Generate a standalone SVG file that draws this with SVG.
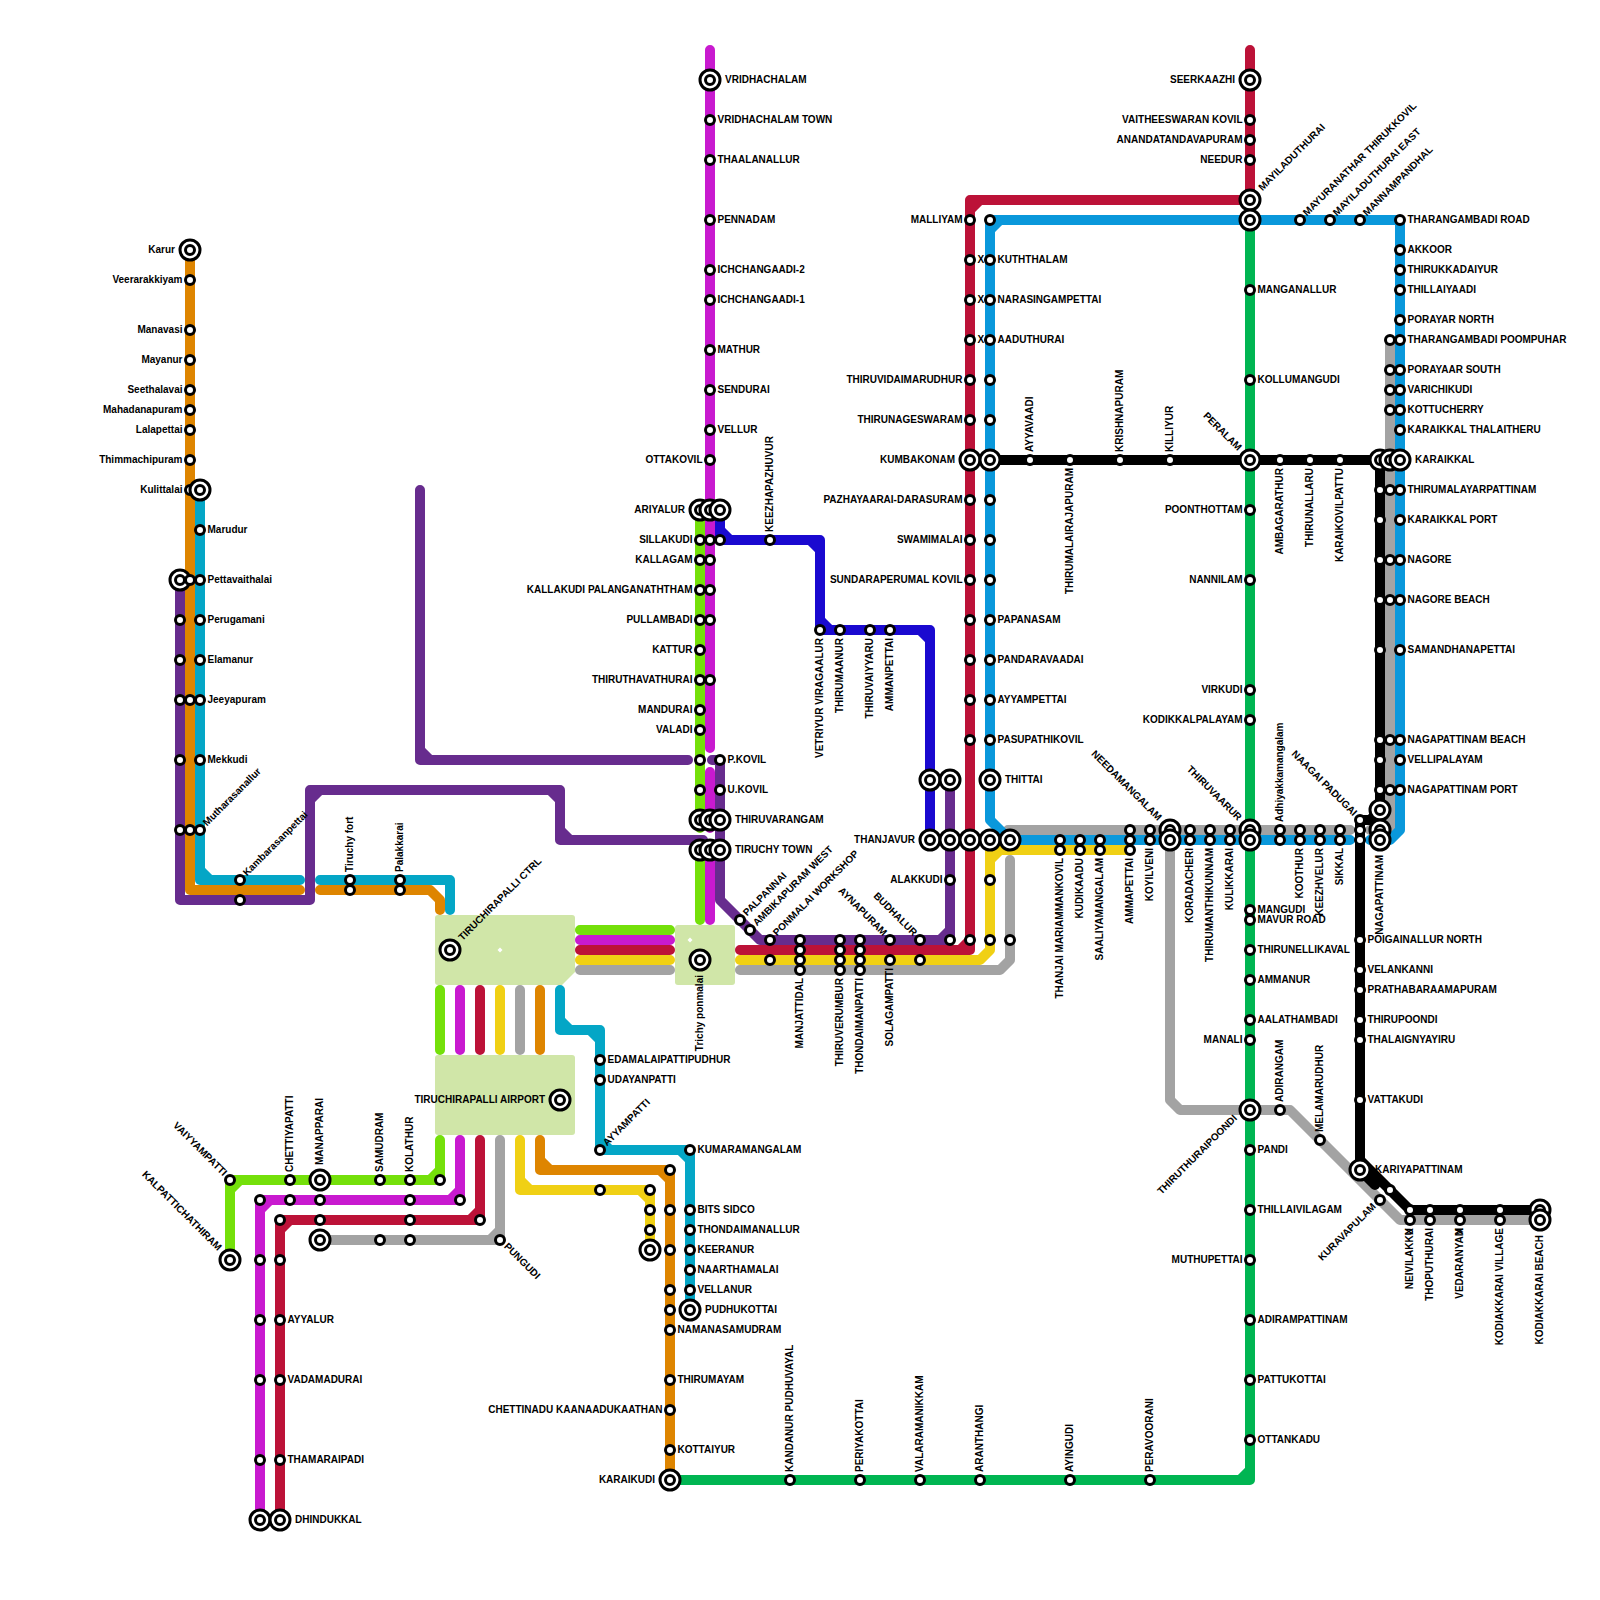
<svg xmlns="http://www.w3.org/2000/svg" width="1600" height="1600" viewBox="0 0 1600 1600">
<style>
text{font:bold 10px "Liberation Sans",Arial,sans-serif;fill:#000}
.e{text-anchor:end}
.l{fill:none;stroke-width:10;stroke-linecap:round;stroke-linejoin:round}
.st{fill:#fff;stroke:#000;stroke-width:3}
.area{fill:#d0e6a8}
.g1{stroke:#74e00a}.mg{stroke:#c81acf}.cr{stroke:#bc1238}.yl{stroke:#f0d014}.gr{stroke:#a3a3a3}.or{stroke:#de8500}.te{stroke:#04a6c6}.bl{stroke:#0a98db}.pu{stroke:#672c8e}.na{stroke:#1a09d0}.g2{stroke:#00b552}.bk{stroke:#000}
</style>
<defs>
<g id="s"><circle class="st" r="4.5"/></g>
<g id="t"><circle class="st" r="10"/><circle class="st" r="4.5"/></g>
</defs>
<g id="areas">
<path class="area" d="M438,915H572Q575,915 575,918V972L562,985H438Q435,985 435,982V918Q435,915 438,915Z"/>
<rect class="area" x="435" y="1055" width="140" height="80" rx="3"/>
<rect class="area" x="675" y="925" width="60" height="60" rx="3"/>
<polygon fill="#fff" points="500,947.5 502.5,950 500,952.5 497.5,950"/>
<polygon fill="#fff" points="690,937.5 692.5,940 690,942.5 687.5,940"/>
</g>
<g id="connectors">
<path class="l gr" d="M580,970H670M520,990V1050M500,1140V1240H320M500,1230L490,1240M740,970H1000L1010,960V860M1008,830H1350M1170,840V1100L1180,1110H1290L1400,1220H1530M1390,340V830L1380,840M1370,830H1380"/>
<path class="l g1" d="M700,510V828M700,850V920M580,930H670M440,990V1050M440,1140V1180H230V1260M440,1170L430,1180M240,1180L230,1190"/>
<path class="l mg" d="M710,50V748M710,772V828M710,850V920M580,940H670M460,990V1050M460,1140V1200H260V1520M460,1190L450,1200M270,1200L260,1210"/>
<path class="l pu" d="M420,490V760H688M420,750L430,760M712,760H720V900L760,940H950V780M950,930L940,940M180,580V900H310V790H560V840H703M310,800L320,790M550,790L560,800M560,830L570,840"/>
<path class="l cr" d="M1250,50V200H970V950H740M970,210L980,200M970,940L960,950M580,950H670M480,990V1050M480,1140V1220H280V1520M480,1210L470,1220M290,1220L280,1230"/>
<path class="l yl" d="M1130,850H990V950L980,960H740M1000,850L990,860M580,960H670M500,990V1050M520,1140V1190H650V1250M520,1180L530,1190M640,1190L650,1200"/>
<path class="l or" d="M190,250V890H300M320,890H430L440,900V910M540,990V1050M540,1140V1170H670V1480M540,1160L550,1170M660,1170L670,1180"/>
<path class="l te" d="M200,490V880H300M200,870L210,880M320,880H450V910M560,990V1030H600V1150H690V1310M560,1020L570,1030M590,1030L600,1040M600,1140L610,1150M680,1150L690,1160"/>
<path class="l bl" d="M990,220H1400V830L1390,840H1370M1350,840H1010L990,820V220M990,230L1000,220"/>
<path class="l na" d="M720,510V540H820V630H930V840M720,530L730,540M810,540L820,550M820,620L830,630M920,630L930,640"/>
<path class="l g2" d="M1250,220V1480H670M1250,1470L1240,1480"/>
<path class="l bk" d="M990,460H1380V810L1370,820H1360V1160L1410,1210H1540M1360,1170L1375,1185"/>
</g>
<g id="n-karur"><use href="#t" x="190" y="250"/><text class="e" x="175" y="252.5">Karur</text></g>
<g id="n-veerarakkiyam"><use href="#s" x="190" y="280"/><text class="e" x="182.5" y="282.5">Veerarakkiyam</text></g>
<g id="n-manavasi"><use href="#s" x="190" y="330"/><text class="e" x="182.5" y="332.5">Manavasi</text></g>
<g id="n-mayanur"><use href="#s" x="190" y="360"/><text class="e" x="182.5" y="362.5">Mayanur</text></g>
<g id="n-seethalavai"><use href="#s" x="190" y="390"/><text class="e" x="182.5" y="392.5">Seethalavai</text></g>
<g id="n-mahadanapuram"><use href="#s" x="190" y="410"/><text class="e" x="182.5" y="412.5">Mahadanapuram</text></g>
<g id="n-lalapettai"><use href="#s" x="190" y="430"/><text class="e" x="182.5" y="432.5">Lalapettai</text></g>
<g id="n-thimmachipuram"><use href="#s" x="190" y="460"/><text class="e" x="182.5" y="462.5">Thimmachipuram</text></g>
<g id="n-kulittalai"><use href="#s" x="190" y="490"/><use href="#t" x="200" y="490"/><text class="e" x="182.5" y="492.5">Kulittalai</text></g>
<g id="n-marudur"><use href="#s" x="200" y="530"/><text x="207.5" y="532.5">Marudur</text></g>
<g id="n-pettavaithalai"><use href="#t" x="180" y="580"/><use href="#s" x="190" y="580"/><use href="#s" x="200" y="580"/><text x="207.5" y="582.5">Pettavaithalai</text></g>
<g id="n-perugamani"><use href="#s" x="180" y="620"/><use href="#s" x="200" y="620"/><text x="207.5" y="622.5">Perugamani</text></g>
<g id="n-elamanur"><use href="#s" x="180" y="660"/><use href="#s" x="200" y="660"/><text x="207.5" y="662.5">Elamanur</text></g>
<g id="n-jeeyapuram"><use href="#s" x="180" y="700"/><use href="#s" x="190" y="700"/><use href="#s" x="200" y="700"/><text x="207.5" y="702.5">Jeeyapuram</text></g>
<g id="n-mekkudi"><use href="#s" x="180" y="760"/><use href="#s" x="200" y="760"/><text x="207.5" y="762.5">Mekkudi</text></g>
<g id="n-mutharasanallur"><use href="#s" x="180" y="830"/><use href="#s" x="190" y="830"/><use href="#s" x="200" y="830"/><text transform="translate(207,826.5) rotate(-45)">Mutharasanallur</text></g>
<g id="n-kambarasanpettai"><use href="#s" x="240" y="880"/><use href="#s" x="240" y="900"/><text transform="translate(247,876.5) rotate(-45)">Kambarasanpettai</text></g>
<g id="n-tiruchy-fort"><use href="#s" x="350" y="880"/><use href="#s" x="350" y="890"/><text transform="translate(352.5,872) rotate(-90)">Tiruchy fort</text></g>
<g id="n-palakkarai"><use href="#s" x="400" y="880"/><use href="#s" x="400" y="890"/><text transform="translate(402.5,872) rotate(-90)">Palakkarai</text></g>
<g id="n-trichy-ctrl"><use href="#t" x="450" y="950"/><text transform="translate(462.4,941.2) rotate(-45)">TIRUCHIRAPALLI CTRL</text></g>
<g id="n-trichy-ponmalai"><use href="#t" x="700" y="960"/><text class="e" transform="translate(702.5,975) rotate(-90)">Trichy ponmalai</text></g>
<g id="n-trichy-airport"><use href="#t" x="560" y="1100"/><text class="e" x="545" y="1102.5">TIRUCHIRAPALLI AIRPORT</text></g>
<g id="n-edamalai"><use href="#s" x="600" y="1060"/><text x="607.5" y="1062.5">EDAMALAIPATTIPUDHUR</text></g>
<g id="n-udayanpatti"><use href="#s" x="600" y="1080"/><text x="607.5" y="1082.5">UDAYANPATTI</text></g>
<g id="n-ayyampatti"><use href="#s" x="600" y="1150"/><text transform="translate(607,1146.5) rotate(-45)">AYYAMPATTI</text></g>
<g id="n-kumaramangalam"><use href="#s" x="690" y="1150"/><text x="697.5" y="1152.5">KUMARAMANGALAM</text></g>
<g id="n-bits"><use href="#s" x="690" y="1210"/><use href="#s" x="670" y="1210"/><use href="#s" x="650" y="1210"/><text x="697.5" y="1212.5">BITS SIDCO</text></g>
<g id="n-thondaimanallur"><use href="#s" x="690" y="1230"/><use href="#s" x="650" y="1230"/><text x="697.5" y="1232.5">THONDAIMANALLUR</text></g>
<g id="n-keeranur"><use href="#t" x="650" y="1250"/><use href="#s" x="670" y="1250"/><use href="#s" x="690" y="1250"/><text x="697.5" y="1252.5">KEERANUR</text></g>
<g id="n-naarthamalai"><use href="#s" x="690" y="1270"/><text x="697.5" y="1272.5">NAARTHAMALAI</text></g>
<g id="n-vellanur"><use href="#s" x="670" y="1290"/><use href="#s" x="690" y="1290"/><text x="697.5" y="1292.5">VELLANUR</text></g>
<g id="n-pudhukottai"><use href="#s" x="670" y="1310"/><use href="#t" x="690" y="1310"/><text x="705" y="1312.5">PUDHUKOTTAI</text></g>
<g id="n-o1170"><use href="#s" x="670" y="1170"/></g>
<g id="n-y1190"><use href="#s" x="600" y="1190"/><use href="#s" x="650" y="1190"/></g>
<g id="n-namanasamudram"><use href="#s" x="670" y="1330"/><text x="677.5" y="1332.5">NAMANASAMUDRAM</text></g>
<g id="n-thirumayam"><use href="#s" x="670" y="1380"/><text x="677.5" y="1382.5">THIRUMAYAM</text></g>
<g id="n-chettinadu"><use href="#s" x="670" y="1410"/><text class="e" x="662.5" y="1412.5">CHETTINADU KAANAADUKAATHAN</text></g>
<g id="n-kottaiyur"><use href="#s" x="670" y="1450"/><text x="677.5" y="1452.5">KOTTAIYUR</text></g>
<g id="n-karaikudi"><use href="#t" x="670" y="1480"/><text class="e" x="655" y="1482.5">KARAIKUDI</text></g>
<g id="n-kandanur"><use href="#s" x="790" y="1480"/><text transform="translate(792.5,1472) rotate(-90)">KANDANUR PUDHUVAYAL</text></g>
<g id="n-periyakottai"><use href="#s" x="860" y="1480"/><text transform="translate(862.5,1472) rotate(-90)">PERIYAKOTTAI</text></g>
<g id="n-valaramanikkam"><use href="#s" x="920" y="1480"/><text transform="translate(922.5,1472) rotate(-90)">VALARAMANIKKAM</text></g>
<g id="n-aranthangi"><use href="#s" x="980" y="1480"/><text transform="translate(982.5,1472) rotate(-90)">ARANTHANGI</text></g>
<g id="n-ayingudi"><use href="#s" x="1070" y="1480"/><text transform="translate(1072.5,1472) rotate(-90)">AYINGUDI</text></g>
<g id="n-peravoorani"><use href="#s" x="1150" y="1480"/><text transform="translate(1152.5,1472) rotate(-90)">PERAVOORANI</text></g>
<g id="n-vaiyyampatti"><use href="#s" x="230" y="1180"/><text class="e" transform="translate(223,1176.5) rotate(45)">VAIYYAMPATTI</text></g>
<g id="n-kalpattichathiram"><use href="#t" x="230" y="1260"/><text class="e" transform="translate(217.6,1251.2) rotate(45)">KALPATTICHATHIRAM</text></g>
<g id="n-chettiyapatti"><use href="#s" x="290" y="1180"/><use href="#s" x="290" y="1200"/><text transform="translate(292.5,1172) rotate(-90)">CHETTIYAPATTI</text></g>
<g id="n-manapparai"><use href="#t" x="320" y="1180"/><use href="#s" x="320" y="1200"/><use href="#s" x="320" y="1220"/><use href="#t" x="320" y="1240"/><text transform="translate(322.5,1165) rotate(-90)">MANAPPARAI</text></g>
<g id="n-samudram"><use href="#s" x="380" y="1180"/><use href="#s" x="380" y="1240"/><text transform="translate(382.5,1172) rotate(-90)">SAMUDRAM</text></g>
<g id="n-kolathur"><use href="#s" x="410" y="1180"/><use href="#s" x="410" y="1200"/><use href="#s" x="410" y="1220"/><use href="#s" x="410" y="1240"/><text transform="translate(412.5,1172) rotate(-90)">KOLATHUR</text></g>
<g id="n-ends"><use href="#s" x="440" y="1180"/><use href="#s" x="460" y="1200"/><use href="#s" x="480" y="1220"/></g>
<g id="n-pungudi"><use href="#s" x="500" y="1240"/><text transform="translate(503.5,1247) rotate(45)">PUNGUDI</text></g>
<g id="n-m1200"><use href="#s" x="260" y="1200"/><use href="#s" x="280" y="1220"/><use href="#s" x="260" y="1260"/><use href="#s" x="280" y="1260"/></g>
<g id="n-ayyalur"><use href="#s" x="260" y="1320"/><use href="#s" x="280" y="1320"/><text x="287.5" y="1322.5">AYYALUR</text></g>
<g id="n-vadamadurai"><use href="#s" x="260" y="1380"/><use href="#s" x="280" y="1380"/><text x="287.5" y="1382.5">VADAMADURAI</text></g>
<g id="n-thamaraipadi"><use href="#s" x="260" y="1460"/><use href="#s" x="280" y="1460"/><text x="287.5" y="1462.5">THAMARAIPADI</text></g>
<g id="n-dhindukkal"><use href="#t" x="260" y="1520"/><use href="#t" x="280" y="1520"/><text x="295" y="1522.5">DHINDUKKAL</text></g>
<g id="n-vridhachalam"><use href="#t" x="710" y="80"/><text x="725" y="82.5">VRIDHACHALAM</text></g>
<g id="n-vridhachalam-town"><use href="#s" x="710" y="120"/><text x="717.5" y="122.5">VRIDHACHALAM TOWN</text></g>
<g id="n-thaalanallur"><use href="#s" x="710" y="160"/><text x="717.5" y="162.5">THAALANALLUR</text></g>
<g id="n-pennadam"><use href="#s" x="710" y="220"/><text x="717.5" y="222.5">PENNADAM</text></g>
<g id="n-ichchangaadi2"><use href="#s" x="710" y="270"/><text x="717.5" y="272.5">ICHCHANGAADI-2</text></g>
<g id="n-ichchangaadi1"><use href="#s" x="710" y="300"/><text x="717.5" y="302.5">ICHCHANGAADI-1</text></g>
<g id="n-mathur"><use href="#s" x="710" y="350"/><text x="717.5" y="352.5">MATHUR</text></g>
<g id="n-sendurai"><use href="#s" x="710" y="390"/><text x="717.5" y="392.5">SENDURAI</text></g>
<g id="n-vellur"><use href="#s" x="710" y="430"/><text x="717.5" y="432.5">VELLUR</text></g>
<g id="n-ottakovil"><use href="#s" x="710" y="460"/><text class="e" x="702.5" y="462.5">OTTAKOVIL</text></g>
<g id="n-ariyalur"><use href="#t" x="700" y="510"/><use href="#t" x="710" y="510"/><use href="#t" x="720" y="510"/><text class="e" x="685" y="512.5">ARIYALUR</text></g>
<g id="n-sillakudi"><use href="#s" x="700" y="540"/><use href="#s" x="710" y="540"/><use href="#s" x="720" y="540"/><text class="e" x="692.5" y="542.5">SILLAKUDI</text></g>
<g id="n-kallagam"><use href="#s" x="700" y="560"/><use href="#s" x="710" y="560"/><text class="e" x="692.5" y="562.5">KALLAGAM</text></g>
<g id="n-kallakudi"><use href="#s" x="700" y="590"/><use href="#s" x="710" y="590"/><text class="e" x="692.5" y="592.5">KALLAKUDI PALANGANATHTHAM</text></g>
<g id="n-pullambadi"><use href="#s" x="700" y="620"/><use href="#s" x="710" y="620"/><text class="e" x="692.5" y="622.5">PULLAMBADI</text></g>
<g id="n-kattur"><use href="#s" x="700" y="650"/><text class="e" x="692.5" y="652.5">KATTUR</text></g>
<g id="n-thiruthavathurai"><use href="#s" x="700" y="680"/><use href="#s" x="710" y="680"/><text class="e" x="692.5" y="682.5">THIRUTHAVATHURAI</text></g>
<g id="n-mandurai"><use href="#s" x="700" y="710"/><text class="e" x="692.5" y="712.5">MANDURAI</text></g>
<g id="n-valadi"><use href="#s" x="700" y="730"/><text class="e" x="692.5" y="732.5">VALADI</text></g>
<g id="n-pkovil"><use href="#s" x="700" y="760"/><use href="#s" x="720" y="760"/><text x="727.5" y="762.5">P.KOVIL</text></g>
<g id="n-ukovil"><use href="#s" x="700" y="790"/><use href="#s" x="720" y="790"/><text x="727.5" y="792.5">U.KOVIL</text></g>
<g id="n-thiruvarangam"><use href="#t" x="700" y="820"/><use href="#t" x="710" y="820"/><use href="#t" x="720" y="820"/><text x="735" y="822.5">THIRUVARANGAM</text></g>
<g id="n-tiruchy-town"><use href="#t" x="700" y="850"/><use href="#t" x="710" y="850"/><use href="#t" x="720" y="850"/><text x="735" y="852.5">TIRUCHY TOWN</text></g>
<g id="n-keezhapazhuvur"><use href="#s" x="770" y="540"/><text transform="translate(772.5,532) rotate(-90)">KEEZHAPAZHUVUR</text></g>
<g id="n-vetriyur"><use href="#s" x="820" y="630"/><text class="e" transform="translate(822.5,638) rotate(-90)">VETRIYUR VIRAGAALUR</text></g>
<g id="n-thirumaanur"><use href="#s" x="840" y="630"/><text class="e" transform="translate(842.5,638) rotate(-90)">THIRUMAANUR</text></g>
<g id="n-thiruvaiyyaru"><use href="#s" x="870" y="630"/><text class="e" transform="translate(872.5,638) rotate(-90)">THIRUVAIYYARU</text></g>
<g id="n-ammanpettai"><use href="#s" x="890" y="630"/><text class="e" transform="translate(892.5,638) rotate(-90)">AMMANPETTAI</text></g>
<g id="n-palpannai"><use href="#s" x="740" y="920"/><text transform="translate(747,916.5) rotate(-45)">PALPANNAI</text></g>
<g id="n-ambikapuram"><use href="#s" x="750" y="930"/><text transform="translate(757,926.5) rotate(-45)">AMBIKAPURAM WEST</text></g>
<g id="n-ponmalai"><use href="#s" x="770" y="940"/><use href="#s" x="770" y="960"/><text transform="translate(777,936.5) rotate(-45)">PONMALAI WORKSHOP</text></g>
<g id="n-manjattidal"><use href="#s" x="800" y="940"/><use href="#s" x="800" y="950"/><use href="#s" x="800" y="960"/><use href="#s" x="800" y="970"/><text class="e" transform="translate(802.5,978) rotate(-90)">MANJATTIDAL</text></g>
<g id="n-thiruverumbur"><use href="#s" x="840" y="940"/><use href="#s" x="840" y="950"/><use href="#s" x="840" y="960"/><use href="#s" x="840" y="970"/><text class="e" transform="translate(842.5,978) rotate(-90)">THIRUVERUMBUR</text></g>
<g id="n-thondaimanpatti"><use href="#s" x="860" y="940"/><use href="#s" x="860" y="950"/><use href="#s" x="860" y="960"/><use href="#s" x="860" y="970"/><text class="e" transform="translate(862.5,978) rotate(-90)">THONDAIMANPATTI</text></g>
<g id="n-solagampatti"><use href="#s" x="890" y="940"/><use href="#s" x="890" y="960"/><text class="e" transform="translate(892.5,968) rotate(-90)">SOLAGAMPATTI</text><text class="e" transform="translate(883,936.5) rotate(45)">AYNAPURAM</text></g>
<g id="n-budhalur"><use href="#s" x="920" y="940"/><use href="#s" x="920" y="960"/><text class="e" transform="translate(913,936.5) rotate(45)">BUDHALUR</text></g>
<g id="n-r940"><use href="#s" x="950" y="940"/><use href="#s" x="970" y="940"/><use href="#s" x="990" y="940"/><use href="#s" x="1010" y="940"/></g>
<g id="n-alakkudi"><use href="#s" x="950" y="880"/><use href="#s" x="990" y="880"/><text class="e" x="942.5" y="882.5">ALAKKUDI</text></g>
<g id="n-thanjavur"><use href="#t" x="930" y="840"/><use href="#t" x="950" y="840"/><use href="#t" x="970" y="840"/><use href="#t" x="990" y="840"/><use href="#t" x="1010" y="840"/><text class="e" x="915" y="842.5">THANJAVUR</text></g>
<g id="n-thittai"><use href="#t" x="930" y="780"/><use href="#t" x="950" y="780"/><use href="#t" x="990" y="780"/><text x="1005" y="782.5">THITTAI</text></g>
<g id="n-malliyam"><use href="#s" x="970" y="220"/><use href="#s" x="990" y="220"/><text class="e" x="962.5" y="222.5">MALLIYAM</text></g>
<g id="n-kuththalam"><use href="#s" x="970" y="260"/><text x="977.5" y="262.5">X</text><use href="#s" x="990" y="260"/><text x="997.5" y="262.5">KUTHTHALAM</text></g>
<g id="n-narasingampettai"><use href="#s" x="970" y="300"/><text x="977.5" y="302.5">X</text><use href="#s" x="990" y="300"/><text x="997.5" y="302.5">NARASINGAMPETTAI</text></g>
<g id="n-aaduthurai"><use href="#s" x="970" y="340"/><text x="977.5" y="342.5">X</text><use href="#s" x="990" y="340"/><text x="997.5" y="342.5">AADUTHURAI</text></g>
<g id="n-thiruvidaimarudhur"><use href="#s" x="970" y="380"/><use href="#s" x="990" y="380"/><text class="e" x="962.5" y="382.5">THIRUVIDAIMARUDHUR</text></g>
<g id="n-thirunageswaram"><use href="#s" x="970" y="420"/><use href="#s" x="990" y="420"/><text class="e" x="962.5" y="422.5">THIRUNAGESWARAM</text></g>
<g id="n-kumbakonam"><use href="#t" x="970" y="460"/><use href="#t" x="990" y="460"/><text class="e" x="955" y="462.5">KUMBAKONAM</text></g>
<g id="n-pazhayaarai"><use href="#s" x="970" y="500"/><use href="#s" x="990" y="500"/><text class="e" x="962.5" y="502.5">PAZHAYAARAI-DARASURAM</text></g>
<g id="n-swamimalai"><use href="#s" x="970" y="540"/><use href="#s" x="990" y="540"/><text class="e" x="962.5" y="542.5">SWAMIMALAI</text></g>
<g id="n-sundaraperumal"><use href="#s" x="970" y="580"/><use href="#s" x="990" y="580"/><text class="e" x="962.5" y="582.5">SUNDARAPERUMAL KOVIL</text></g>
<g id="n-papanasam"><use href="#s" x="970" y="620"/><use href="#s" x="990" y="620"/><text x="997.5" y="622.5">PAPANASAM</text></g>
<g id="n-pandaravaadai"><use href="#s" x="970" y="660"/><use href="#s" x="990" y="660"/><text x="997.5" y="662.5">PANDARAVAADAI</text></g>
<g id="n-ayyampettai"><use href="#s" x="970" y="700"/><use href="#s" x="990" y="700"/><text x="997.5" y="702.5">AYYAMPETTAI</text></g>
<g id="n-pasupathikovil"><use href="#s" x="970" y="740"/><use href="#s" x="990" y="740"/><text x="997.5" y="742.5">PASUPATHIKOVIL</text></g>
<g id="n-ayyavaadi"><use href="#s" x="1030" y="460"/><text transform="translate(1032.5,452) rotate(-90)">AYYAVAADI</text></g>
<g id="n-thirumalairajapuram"><use href="#s" x="1070" y="460"/><text class="e" transform="translate(1072.5,468) rotate(-90)">THIRUMALAIRAJAPURAM</text></g>
<g id="n-krishnapuram"><use href="#s" x="1120" y="460"/><text transform="translate(1122.5,452) rotate(-90)">KRISHNAPURAM</text></g>
<g id="n-killiyur"><use href="#s" x="1170" y="460"/><text transform="translate(1172.5,452) rotate(-90)">KILLIYUR</text></g>
<g id="n-thanjai"><use href="#s" x="1060" y="840"/><use href="#s" x="1060" y="850"/><text class="e" transform="translate(1062.5,858) rotate(-90)">THANJAI MARIAMMANKOVIL</text></g>
<g id="n-kudikaadu"><use href="#s" x="1080" y="840"/><use href="#s" x="1080" y="850"/><text class="e" transform="translate(1082.5,858) rotate(-90)">KUDIKAADU</text></g>
<g id="n-saaliyamangalam"><use href="#s" x="1100" y="840"/><use href="#s" x="1100" y="850"/><text class="e" transform="translate(1102.5,858) rotate(-90)">SAALIYAMANGALAM</text></g>
<g id="n-ammapettai"><use href="#s" x="1130" y="830"/><use href="#s" x="1130" y="840"/><use href="#s" x="1130" y="850"/><text class="e" transform="translate(1132.5,858) rotate(-90)">AMMAPETTAI</text></g>
<g id="n-koyilveni"><use href="#s" x="1150" y="830"/><use href="#s" x="1150" y="840"/><text class="e" transform="translate(1152.5,848) rotate(-90)">KOYILVENI</text></g>
<g id="n-needamangalam"><use href="#t" x="1170" y="830"/><use href="#t" x="1170" y="840"/><text class="e" transform="translate(1157.6,821.2) rotate(45)">NEEDAMANGALAM</text></g>
<g id="n-koradacheri"><use href="#s" x="1190" y="830"/><use href="#s" x="1190" y="840"/><text class="e" transform="translate(1192.5,848) rotate(-90)">KORADACHERI</text></g>
<g id="n-thirumanthikunnam"><use href="#s" x="1210" y="830"/><use href="#s" x="1210" y="840"/><text class="e" transform="translate(1212.5,848) rotate(-90)">THIRUMANTHIKUNNAM</text></g>
<g id="n-kulikkarai"><use href="#s" x="1230" y="830"/><use href="#s" x="1230" y="840"/><text class="e" transform="translate(1232.5,848) rotate(-90)">KULIKKARAI</text></g>
<g id="n-thiruvaarur"><use href="#t" x="1250" y="830"/><use href="#t" x="1250" y="840"/><text class="e" transform="translate(1237.6,821.2) rotate(45)">THIRUVAARUR</text></g>
<g id="n-adhiyakkamangalam"><use href="#s" x="1280" y="830"/><use href="#s" x="1280" y="840"/><text transform="translate(1282.5,822) rotate(-90)">Adhiyakkamangalam</text></g>
<g id="n-koothur"><use href="#s" x="1300" y="830"/><use href="#s" x="1300" y="840"/><text class="e" transform="translate(1302.5,848) rotate(-90)">KOOTHUR</text></g>
<g id="n-keezhvelur"><use href="#s" x="1320" y="830"/><use href="#s" x="1320" y="840"/><text class="e" transform="translate(1322.5,848) rotate(-90)">KEEZHVELUR</text></g>
<g id="n-sikkal"><use href="#s" x="1340" y="830"/><use href="#s" x="1340" y="840"/><text class="e" transform="translate(1342.5,848) rotate(-90)">SIKKAL</text></g>
<g id="n-naagai-padugai"><use href="#s" x="1360" y="820"/><use href="#s" x="1360" y="830"/><use href="#s" x="1360" y="840"/><text class="e" transform="translate(1353,816.5) rotate(45)">NAAGAI PADUGAI</text></g>
<g id="n-nagapattinam"><use href="#t" x="1380" y="810"/><use href="#t" x="1380" y="830"/><use href="#t" x="1380" y="840"/><text class="e" transform="translate(1382.5,855) rotate(-90)">NAGAPATTINAM</text></g>
<g id="n-seerkaazhi"><use href="#t" x="1250" y="80"/><text class="e" x="1235" y="82.5">SEERKAAZHI</text></g>
<g id="n-vaitheeswaran"><use href="#s" x="1250" y="120"/><text class="e" x="1242.5" y="122.5">VAITHEESWARAN KOVIL</text></g>
<g id="n-anandatandavapuram"><use href="#s" x="1250" y="140"/><text class="e" x="1242.5" y="142.5">ANANDATANDAVAPURAM</text></g>
<g id="n-needur"><use href="#s" x="1250" y="160"/><text class="e" x="1242.5" y="162.5">NEEDUR</text></g>
<g id="n-mayiladuthurai"><use href="#t" x="1250" y="200"/><use href="#t" x="1250" y="220"/><text transform="translate(1262.4,191.2) rotate(-45)">MAYILADUTHURAI</text></g>
<g id="n-manganallur"><use href="#s" x="1250" y="290"/><text x="1257.5" y="292.5">MANGANALLUR</text></g>
<g id="n-kollumangudi"><use href="#s" x="1250" y="380"/><text x="1257.5" y="382.5">KOLLUMANGUDI</text></g>
<g id="n-peralam"><use href="#t" x="1250" y="460"/><text class="e" transform="translate(1237.6,451.2) rotate(45)">PERALAM</text></g>
<g id="n-poonthottam"><use href="#s" x="1250" y="510"/><text class="e" x="1242.5" y="512.5">POONTHOTTAM</text></g>
<g id="n-nannilam"><use href="#s" x="1250" y="580"/><text class="e" x="1242.5" y="582.5">NANNILAM</text></g>
<g id="n-virkudi"><use href="#s" x="1250" y="690"/><text class="e" x="1242.5" y="692.5">VIRKUDI</text></g>
<g id="n-kodikkalpalayam"><use href="#s" x="1250" y="720"/><text class="e" x="1242.5" y="722.5">KODIKKALPALAYAM</text></g>
<g id="n-mangudi"><use href="#s" x="1250" y="910"/><text x="1257.5" y="912.5">MANGUDI</text></g>
<g id="n-mavur-road"><use href="#s" x="1250" y="920"/><text x="1257.5" y="922.5">MAVUR ROAD</text></g>
<g id="n-thirunellikaval"><use href="#s" x="1250" y="950"/><text x="1257.5" y="952.5">THIRUNELLIKAVAL</text></g>
<g id="n-ammanur"><use href="#s" x="1250" y="980"/><text x="1257.5" y="982.5">AMMANUR</text></g>
<g id="n-aalathambadi"><use href="#s" x="1250" y="1020"/><text x="1257.5" y="1022.5">AALATHAMBADI</text></g>
<g id="n-manali"><use href="#s" x="1250" y="1040"/><text class="e" x="1242.5" y="1042.5">MANALI</text></g>
<g id="n-thiruthuraipoondi"><use href="#t" x="1250" y="1110"/><text class="e" transform="translate(1237.6,1118.8) rotate(-45)">THIRUTHURAIPOONDI</text></g>
<g id="n-pandi"><use href="#s" x="1250" y="1150"/><text x="1257.5" y="1152.5">PANDI</text></g>
<g id="n-thillaivilagam"><use href="#s" x="1250" y="1210"/><text x="1257.5" y="1212.5">THILLAIVILAGAM</text></g>
<g id="n-muthupettai"><use href="#s" x="1250" y="1260"/><text class="e" x="1242.5" y="1262.5">MUTHUPETTAI</text></g>
<g id="n-adirampattinam"><use href="#s" x="1250" y="1320"/><text x="1257.5" y="1322.5">ADIRAMPATTINAM</text></g>
<g id="n-pattukottai"><use href="#s" x="1250" y="1380"/><text x="1257.5" y="1382.5">PATTUKOTTAI</text></g>
<g id="n-ottankadu"><use href="#s" x="1250" y="1440"/><text x="1257.5" y="1442.5">OTTANKADU</text></g>
<g id="n-adirangam"><use href="#s" x="1280" y="1110"/><text transform="translate(1282.5,1102) rotate(-90)">ADIRANGAM</text></g>
<g id="n-melamarudhur"><use href="#s" x="1320" y="1140"/><text transform="translate(1322.5,1132) rotate(-90)">MELAMARUDHUR</text></g>
<g id="n-kuravapulam"><use href="#s" x="1380" y="1200"/><text class="e" transform="translate(1376.5,1207) rotate(-45)">KURAVAPULAM</text></g>
<g id="n-mayuranathar"><use href="#s" x="1300" y="220"/><text transform="translate(1307,216.5) rotate(-45)">MAYURANATHAR THIRUKKOVIL</text></g>
<g id="n-mayiladuthurai-east"><use href="#s" x="1330" y="220"/><text transform="translate(1337,216.5) rotate(-45)">MAYILADUTHURAI EAST</text></g>
<g id="n-mannampandhal"><use href="#s" x="1360" y="220"/><text transform="translate(1367,216.5) rotate(-45)">MANNAMPANDHAL</text></g>
<g id="n-tharangambadi-road"><use href="#s" x="1400" y="220"/><text x="1407.5" y="222.5">THARANGAMBADI ROAD</text></g>
<g id="n-akkoor"><use href="#s" x="1400" y="250"/><text x="1407.5" y="252.5">AKKOOR</text></g>
<g id="n-thirukkadaiyur"><use href="#s" x="1400" y="270"/><text x="1407.5" y="272.5">THIRUKKADAIYUR</text></g>
<g id="n-thillaiyaadi"><use href="#s" x="1400" y="290"/><text x="1407.5" y="292.5">THILLAIYAADI</text></g>
<g id="n-porayar-north"><use href="#s" x="1400" y="320"/><text x="1407.5" y="322.5">PORAYAR NORTH</text></g>
<g id="n-poompuhar"><use href="#s" x="1390" y="340"/><use href="#s" x="1400" y="340"/><text x="1407.5" y="342.5">THARANGAMBADI POOMPUHAR</text></g>
<g id="n-porayaar-south"><use href="#s" x="1390" y="370"/><use href="#s" x="1400" y="370"/><text x="1407.5" y="372.5">PORAYAAR SOUTH</text></g>
<g id="n-varichikudi"><use href="#s" x="1390" y="390"/><use href="#s" x="1400" y="390"/><text x="1407.5" y="392.5">VARICHIKUDI</text></g>
<g id="n-kottucherry"><use href="#s" x="1390" y="410"/><use href="#s" x="1400" y="410"/><text x="1407.5" y="412.5">KOTTUCHERRY</text></g>
<g id="n-thalaitheru"><use href="#s" x="1400" y="430"/><text x="1407.5" y="432.5">KARAIKKAL THALAITHERU</text></g>
<g id="n-karaikkal"><use href="#t" x="1380" y="460"/><use href="#t" x="1390" y="460"/><use href="#t" x="1400" y="460"/><text x="1415" y="462.5">KARAIKKAL</text></g>
<g id="n-ambagarathur"><use href="#s" x="1280" y="460"/><text class="e" transform="translate(1282.5,468) rotate(-90)">AMBAGARATHUR</text></g>
<g id="n-thirunallaru"><use href="#s" x="1310" y="460"/><text class="e" transform="translate(1312.5,468) rotate(-90)">THIRUNALLARU</text></g>
<g id="n-karaikovilpattu"><use href="#s" x="1340" y="460"/><text class="e" transform="translate(1342.5,468) rotate(-90)">KARAIKOVILPATTU</text></g>
<g id="n-thirumalayarpattinam"><use href="#s" x="1380" y="490"/><use href="#s" x="1390" y="490"/><use href="#s" x="1400" y="490"/><text x="1407.5" y="492.5">THIRUMALAYARPATTINAM</text></g>
<g id="n-karaikkal-port"><use href="#s" x="1380" y="520"/><use href="#s" x="1400" y="520"/><text x="1407.5" y="522.5">KARAIKKAL PORT</text></g>
<g id="n-nagore"><use href="#s" x="1380" y="560"/><use href="#s" x="1390" y="560"/><use href="#s" x="1400" y="560"/><text x="1407.5" y="562.5">NAGORE</text></g>
<g id="n-nagore-beach"><use href="#s" x="1380" y="600"/><use href="#s" x="1390" y="600"/><use href="#s" x="1400" y="600"/><text x="1407.5" y="602.5">NAGORE BEACH</text></g>
<g id="n-samandhanapettai"><use href="#s" x="1380" y="650"/><use href="#s" x="1400" y="650"/><text x="1407.5" y="652.5">SAMANDHANAPETTAI</text></g>
<g id="n-nagapattinam-beach"><use href="#s" x="1380" y="740"/><use href="#s" x="1390" y="740"/><use href="#s" x="1400" y="740"/><text x="1407.5" y="742.5">NAGAPATTINAM BEACH</text></g>
<g id="n-vellipalayam"><use href="#s" x="1380" y="760"/><use href="#s" x="1400" y="760"/><text x="1407.5" y="762.5">VELLIPALAYAM</text></g>
<g id="n-nagapattinam-port"><use href="#s" x="1380" y="790"/><use href="#s" x="1390" y="790"/><use href="#s" x="1400" y="790"/><text x="1407.5" y="792.5">NAGAPATTINAM PORT</text></g>
<g id="n-poigainallur"><use href="#s" x="1360" y="940"/><text x="1367.5" y="942.5">POIGAINALLUR NORTH</text></g>
<g id="n-velankanni"><use href="#s" x="1360" y="970"/><text x="1367.5" y="972.5">VELANKANNI</text></g>
<g id="n-prathabaraamapuram"><use href="#s" x="1360" y="990"/><text x="1367.5" y="992.5">PRATHABARAAMAPURAM</text></g>
<g id="n-thirupoondi"><use href="#s" x="1360" y="1020"/><text x="1367.5" y="1022.5">THIRUPOONDI</text></g>
<g id="n-thalaignyayiru"><use href="#s" x="1360" y="1040"/><text x="1367.5" y="1042.5">THALAIGNYAYIRU</text></g>
<g id="n-vattakudi"><use href="#s" x="1360" y="1100"/><text x="1367.5" y="1102.5">VATTAKUDI</text></g>
<g id="n-kariyapattinam"><use href="#t" x="1360" y="1170"/><text x="1375" y="1172.5">KARIYAPATTINAM</text></g>
<g id="n-b1190"><use href="#s" x="1390" y="1190"/></g>
<g id="n-neivilakku"><use href="#s" x="1410" y="1210"/><use href="#s" x="1410" y="1220"/><text class="e" transform="translate(1412.5,1228) rotate(-90)">NEIVILAKKU</text><text class="e" transform="translate(1412.5,1228) rotate(-90)">X</text></g>
<g id="n-thoputhurai"><use href="#s" x="1430" y="1210"/><use href="#s" x="1430" y="1220"/><text class="e" transform="translate(1432.5,1228) rotate(-90)">THOPUTHURAI</text></g>
<g id="n-vedaranyam"><use href="#s" x="1460" y="1210"/><use href="#s" x="1460" y="1220"/><text class="e" transform="translate(1462.5,1228) rotate(-90)">VEDARANYAM</text><text class="e" transform="translate(1462.5,1228) rotate(-90)">X</text></g>
<g id="n-kodiakkarai-village"><use href="#s" x="1500" y="1210"/><use href="#s" x="1500" y="1220"/><text class="e" transform="translate(1502.5,1228) rotate(-90)">KODIAKKARAI VILLAGE</text></g>
<g id="n-kodiakkarai-beach"><use href="#t" x="1540" y="1210"/><use href="#t" x="1540" y="1220"/><text class="e" transform="translate(1542.5,1235) rotate(-90)">KODIAKKARAI BEACH</text></g>
</svg>
